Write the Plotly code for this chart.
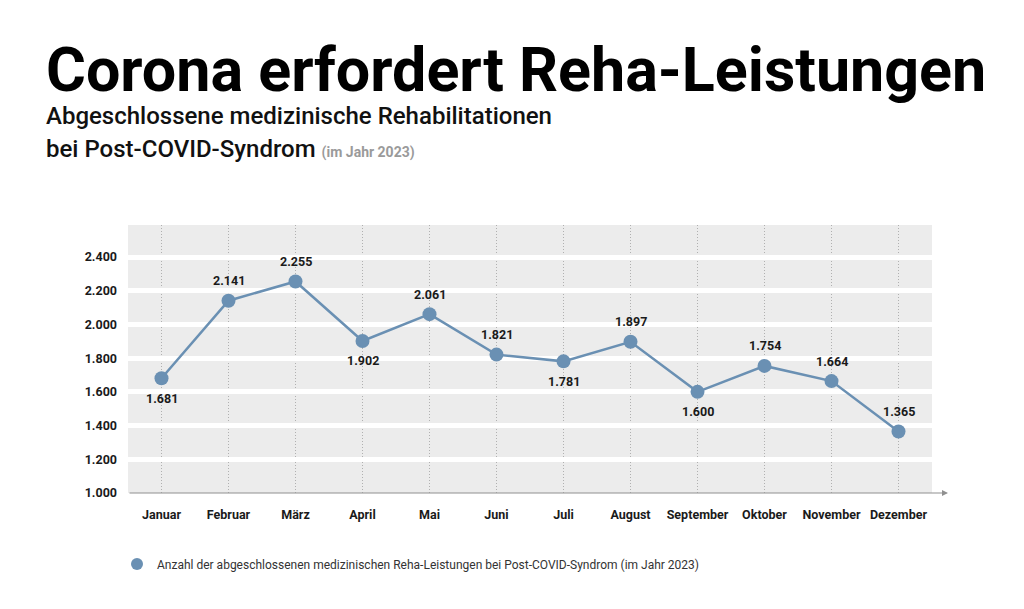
import plotly.graph_objects as go

months = ["Januar", "Februar", "März", "April", "Mai", "Juni", "Juli",
          "August", "September", "Oktober", "November", "Dezember"]
values = [1681, 2141, 2255, 1902, 2061, 1821, 1781, 1897, 1600, 1754, 1664, 1365]
label_side = [-1, 1, 1, -1, 1, 1, -1, 1, -1, 1, 1, 1]  # +1 above, -1 below
y_ticks = [1000, 1200, 1400, 1600, 1800, 2000, 2200, 2400]

title = "Corona erfordert Reha-Leistungen"
subtitle1 = "Abgeschlossene medizinische Rehabilitationen"
subtitle2 = "bei Post-COVID-Syndrom"
subtitle_note = "(im Jahr 2023)"
series_name = "Anzahl der abgeschlossenen medizinischen Reha-Leistungen bei Post-COVID-Syndrom (im Jahr 2023)"

FONT = "Roboto"
BLUE = "#6a90b3"
DARK = "#1a1a1a"

# page body has an 8px margin -> work in screen coordinates, subtract offset
OFF = 8
W, H = 1024 - OFF, 609 - OFF
ML, MR, MT, MB = 128 - OFF, 92, 225 - OFF, 116
PW, PH = W - ML - MR, H - MT - MB


def px(x):
    return (x - OFF - ML) / PW


def py(y):
    return (H - (y - OFF) - MB) / PH


labels = [f"{v:,}".replace(",", ".") for v in values]

fig = go.Figure()
fig.add_trace(go.Scatter(
    x=months, y=values, mode="lines+markers",
    name=series_name, showlegend=False,
    line=dict(color=BLUE, width=2.5),
    marker=dict(color=BLUE, size=14),
    cliponaxis=False,
))
# legend entry: marker only
fig.add_trace(go.Scatter(
    x=[None], y=[None], mode="markers", name=series_name,
    marker=dict(color=BLUE, size=12), showlegend=True,
))

for m, v, lab, s in zip(months, values, labels, label_side):
    fig.add_annotation(
        x=m, y=v, xref="x", yref="y", text=f"<b>{lab}</b>", showarrow=False,
        yshift=20 * s, font=dict(family=FONT, size=12.5, color=DARK),
    )

fig.update_layout(
    width=W, height=H,
    margin=dict(l=ML, r=MR, t=MT, b=MB),
    paper_bgcolor="white",
    plot_bgcolor="#ececec",
    separators=",.",
    font=dict(family=FONT, color=DARK),
    showlegend=True,
    legend=dict(orientation="h", x=px(117), y=py(564), xanchor="left", yanchor="middle",
                font=dict(family=FONT, size=12, color="#333333"),
                itemsizing="constant", itemwidth=30, bgcolor="rgba(0,0,0,0)"),
    xaxis=dict(
        type="category", range=[-0.5, 11.5],
        showgrid=True, gridcolor="#b0b0b0", gridwidth=1, griddash="1px,2px",
        showline=False, zeroline=False, ticks="",
        tickfont=dict(family=FONT, size=12.5, color=DARK, weight="bold"),
        ticklabelstandoff=12,
    ),
    yaxis=dict(
        range=[1000, 2590], tickvals=y_ticks, tickformat=",d",
        showgrid=True, gridcolor="white", gridwidth=4.5,
        zeroline=False, showline=False, ticks="",
        tickfont=dict(family=FONT, size=12.5, color=DARK, weight="bold"),
        ticklabelstandoff=10,
    ),
)

# axis line with arrow
fig.add_annotation(
    x=px(948), y=0, ax=0, ay=0,
    xref="x domain", yref="y domain", axref="x domain", ayref="y domain",
    showarrow=True, arrowhead=2, arrowsize=1, arrowwidth=1.2, arrowcolor="#909090", text="",
)

fig.add_annotation(
    x=px(44), y=py(70), xref="paper", yref="paper", text=f"<b>{title}</b>",
    showarrow=False, font=dict(family=FONT, size=61, color="black"),
    xanchor="left", yanchor="middle",
)
fig.add_annotation(
    x=px(44), y=py(116), xref="paper", yref="paper", text=subtitle1,
    showarrow=False, font=dict(family=FONT, size=24, color="#111111", weight=500),
    xanchor="left", yanchor="middle",
)
fig.add_annotation(
    x=px(44), y=py(149), xref="paper", yref="paper",
    text=f"{subtitle2} <span style='font-size:14px;color:#9a9a9a'><b>{subtitle_note}</b></span>",
    showarrow=False, font=dict(family=FONT, size=24, color="#111111", weight=500),
    xanchor="left", yanchor="middle",
)

fig.write_html("out.html")
